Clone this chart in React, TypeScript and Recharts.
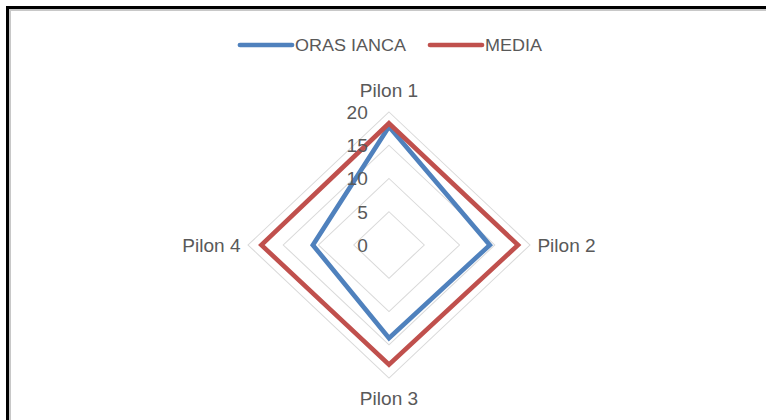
import React from 'react';
import { RadarChart, Radar, PolarGrid, PolarAngleAxis, PolarRadiusAxis, Legend } from 'recharts';

const categories = ['Pilon 1', 'Pilon 2', 'Pilon 3', 'Pilon 4'];
const orasIanca = [17.8, 14.3, 14.0, 10.8];
const media = [18.3, 18.3, 18.0, 18.1];
const seriesNames = ['ORAS IANCA', 'MEDIA'];
const seriesColors = ['#4f81bd', '#c0504d'];
const radiusTicks = [0, 5, 10, 15, 20];

const data = categories.map((c, i) => ({ category: c, oras: orasIanca[i], media: media[i] }));

const CX = 389;
const CY = 245;
const R = 133;
const STRETCH = 1.06;
const FONT = '"Liberation Sans", Arial, sans-serif';
const TEXT = '#595959';

const AngleTick = (props: any) => {
  const { payload } = props;
  const ang = (payload.coordinate * Math.PI) / 180;
  const c = Math.cos(ang);
  const s = Math.sin(ang);
  let x = CX;
  let y = CY;
  let anchor: 'start' | 'middle' | 'end' = 'middle';
  if (Math.abs(c) < 0.5) {
    x = CX;
    y = s > 0 ? CY - R - 15 : CY + R + 27;
  } else {
    x = CX + (R + 7) * (c > 0 ? 1 : -1);
    y = CY + 7;
    anchor = c > 0 ? 'start' : 'end';
  }
  return (
    <text x={x} y={y} textAnchor={anchor} fill={TEXT} fontSize={18} fontFamily={FONT}>
      {payload.value}
    </text>
  );
};

const RadiusTick = (props: any) => {
  const { payload } = props;
  const y = CY - payload.coordinate + 7;
  return (
    <text x={CX - 20} y={y} textAnchor="end" fill={TEXT} fontSize={18} fontFamily={FONT}>
      {payload.value}
    </text>
  );
};

const LegendContent = () => {
  const items = [
    { x1: 248.4, x2: 297.5, tx: 300.3 },
    { x1: 427.7, x2: 476.7, tx: 479.6 },
  ];
  return (
    <svg width={766} height={60} style={{ display: 'block' }}>
      {seriesNames.map((n, i) => (
        <g key={n}>
          <line x1={items[i].x1} x2={items[i].x2} y1={45} y2={45} stroke={seriesColors[i]} strokeWidth={4.5} strokeLinecap="round" />
          <text x={items[i].tx} y={51} fill={TEXT} fontSize={17} fontFamily={FONT}>
            {n}
          </text>
        </g>
      ))}
    </svg>
  );
};

export default function App() {
  return (
    <div style={{ position: 'absolute', left: 0, top: 0, width: 766, height: 420, overflow: 'hidden', background: '#fff' }}>
      <div
        style={{
          position: 'absolute',
          left: 6,
          top: 6,
          width: 820,
          height: 460,
          borderTop: '3px solid #000',
          borderLeft: '3px solid #000',
          boxShadow: 'inset 2px 2px 0 #c8c8c8',
        }}
      />
      <div style={{ position: 'absolute', left: 0, top: 0, width: 766, height: 420, transform: `scaleX(${STRETCH})`, transformOrigin: `${CX}px 0px` }}>
        <RadarChart
          width={766}
          height={420}
          data={data}
          cx={CX}
          cy={CY}
          outerRadius={R}
          startAngle={90}
          endAngle={-270}
          margin={{ top: 0, right: 0, bottom: 0, left: 0 }}
        >
          <PolarGrid gridType="polygon" radialLines={false} stroke="#d9d9d9" strokeWidth={1} />
          <PolarAngleAxis dataKey="category" tick={AngleTick} tickLine={false} axisLine={false} />
          <PolarRadiusAxis
            angle={90}
            domain={[0, 20]}
            ticks={radiusTicks as any}
            tickCount={5}
            tick={RadiusTick}
            axisLine={false}
            tickLine={false}
          />
          <Radar name={seriesNames[0]} dataKey="oras" stroke={seriesColors[0]} strokeWidth={4.5} fill="none" fillOpacity={0} dot={false} isAnimationActive={false} />
          <Radar name={seriesNames[1]} dataKey="media" stroke={seriesColors[1]} strokeWidth={4.5} fill="none" fillOpacity={0} dot={false} isAnimationActive={false} />
          <Legend content={LegendContent} wrapperStyle={{ position: 'absolute', left: 0, top: 0, width: 766, height: 60 }} />
        </RadarChart>
      </div>
    </div>
  );
}
